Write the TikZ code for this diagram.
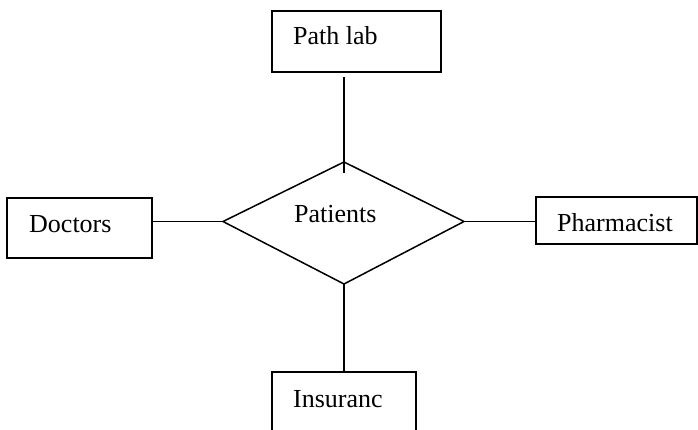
\documentclass[tikz,border=0pt]{standalone}
\usepackage{fontspec}
\setmainfont{Liberation Serif}
\usepackage{tikz}
\usetikzlibrary{calc}
\tikzset{
  box/.style={draw=black, line width=1.5pt, inner sep=0pt},
  link/.style={draw=black, line width=1.5pt},
  rel/.style={draw=black, line width=1.5pt, line join=miter},
  lab/.style={text=black, inner sep=0pt, anchor=base west, font=\fontsize{26}{30}\selectfont},
}
\begin{document}
\begin{tikzpicture}[x=1pt,y=-1pt]
  \useasboundingbox (0,0) rectangle (698,430);

  % relationship
  \coordinate (L) at (223,221.5);
  \coordinate (T) at (344,162);
  \coordinate (R) at (464,221.5);
  \coordinate (B) at (344,284);
  \coordinate (Tin) at (344,173);
  \coordinate (Ttop) at (344,77);
  \draw[rel] (L) -- (T) -- (R) -- (B) -- cycle;
  \node[lab] (patients) at (294,223) {Patients};

  % entities
  \node[box, minimum width=169pt, minimum height=61pt] (plab) at (356.5,41.5) {};
  \node[lab] (plabtxt) at (293,45) {Path lab};
  \node[box, minimum width=145pt, minimum height=60pt] (doc) at (79.5,228) {};
  \node[lab] (doctxt) at (29,233) {Doctors};
  \node[box, minimum width=161pt, minimum height=47pt] (pharm) at (616.5,220.5) {};
  \node[lab] (pharmtxt) at (557,232) {Pharmacist};
  \node[box, minimum width=144pt, minimum height=80pt] (ins) at (344,412) {};
  \node[lab] (instxt) at (293,407) {Insuranc};

  % connectors
  \draw[link] (Ttop) -- (Tin);
  \draw[link] (doc.east |- L) -- (L);
  \draw[link] (R) -- (pharm.west |- R);
  \draw[link] (B) -- (ins.north);
\end{tikzpicture}
\end{document}
